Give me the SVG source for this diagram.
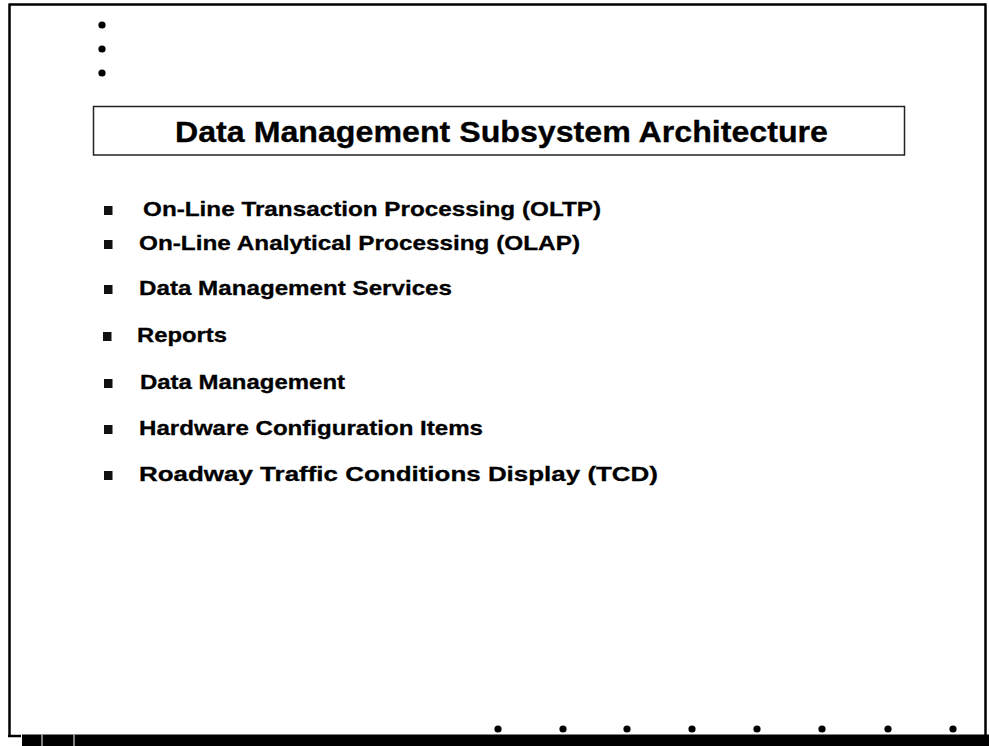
<svg xmlns="http://www.w3.org/2000/svg" width="989" height="746" viewBox="0 0 989 746">
  <style>
    .frame { stroke: #000; stroke-width: 2.5; fill: none; }
    .dot { fill: #000; }
    .title { font-family: "Liberation Sans", Arial, sans-serif; font-weight: bold; font-size: 29px; fill: #000; stroke: #000; stroke-width: 0.3; }
    .item { font-family: "Liberation Sans", Arial, sans-serif; font-weight: bold; font-size: 20.5px; fill: #000; stroke: #000; stroke-width: 0.3; }
    .sq { fill: #111; }
  </style>
  <rect width="989" height="746" fill="#fff"/>
  <g id="frame">
    <line class="frame" x1="9.5" y1="4.5" x2="986" y2="4.5"/>
    <line class="frame" x1="9.5" y1="3.5" x2="9.5" y2="736"/>
    <line class="frame" x1="985.5" y1="3.5" x2="985.5" y2="735"/>
    <line class="frame" x1="8" y1="736" x2="21" y2="736"/>
    <rect x="22" y="734.5" width="967" height="11.5" fill="#000"/>
    <rect x="41.5" y="734.5" width="1" height="11.5" fill="#fff"/>
    <rect x="73.5" y="734.5" width="1" height="11.5" fill="#fff"/>
  </g>
  <g id="top-dots">
    <circle class="dot" cx="102" cy="25" r="3.6"/>
    <circle class="dot" cx="102" cy="49" r="3.6"/>
    <circle class="dot" cx="102" cy="73" r="3.6"/>
  </g>
  <g id="title">
    <rect x="93.5" y="106.5" width="811" height="48.5" fill="#fff" stroke="#222" stroke-width="1.5"/>
    <text class="title" x="175" y="142" textLength="653" lengthAdjust="spacingAndGlyphs">Data Management Subsystem Architecture</text>
  </g>
  <g id="item-oltp">
    <rect class="sq" x="104" y="206" width="8.5" height="9"/>
    <text class="item" x="143" y="216" textLength="458" lengthAdjust="spacingAndGlyphs">On-Line Transaction Processing (OLTP)</text>
  </g>
  <g id="item-olap">
    <rect class="sq" x="104" y="240" width="8.5" height="9"/>
    <text class="item" x="139" y="250" textLength="441" lengthAdjust="spacingAndGlyphs">On-Line Analytical Processing (OLAP)</text>
  </g>
  <g id="item-dms">
    <rect class="sq" x="104" y="285" width="8.5" height="9"/>
    <text class="item" x="139" y="295" textLength="313" lengthAdjust="spacingAndGlyphs">Data Management Services</text>
  </g>
  <g id="item-reports">
    <rect class="sq" x="103" y="332" width="8.5" height="9"/>
    <text class="item" x="137" y="342" textLength="90" lengthAdjust="spacingAndGlyphs">Reports</text>
  </g>
  <g id="item-dm">
    <rect class="sq" x="104" y="379" width="8.5" height="9"/>
    <text class="item" x="140" y="389" textLength="205" lengthAdjust="spacingAndGlyphs">Data Management</text>
  </g>
  <g id="item-hw">
    <rect class="sq" x="104" y="425" width="8.5" height="9"/>
    <text class="item" x="139" y="435" textLength="344" lengthAdjust="spacingAndGlyphs">Hardware Configuration Items</text>
  </g>
  <g id="item-tcd">
    <rect class="sq" x="104" y="471" width="8.5" height="9"/>
    <text class="item" x="139" y="481" textLength="519" lengthAdjust="spacingAndGlyphs">Roadway Traffic Conditions Display (TCD)</text>
  </g>
  <g id="connectors"></g>
  <g id="bottom-dots">
    <circle class="dot" cx="498" cy="729" r="3.6"/>
    <circle class="dot" cx="563" cy="729" r="3.6"/>
    <circle class="dot" cx="627" cy="729" r="3.6"/>
    <circle class="dot" cx="692" cy="729" r="3.6"/>
    <circle class="dot" cx="757" cy="729" r="3.6"/>
    <circle class="dot" cx="822" cy="729" r="3.6"/>
    <circle class="dot" cx="888" cy="729" r="3.6"/>
    <circle class="dot" cx="953" cy="729" r="3.6"/>
  </g>
</svg>
